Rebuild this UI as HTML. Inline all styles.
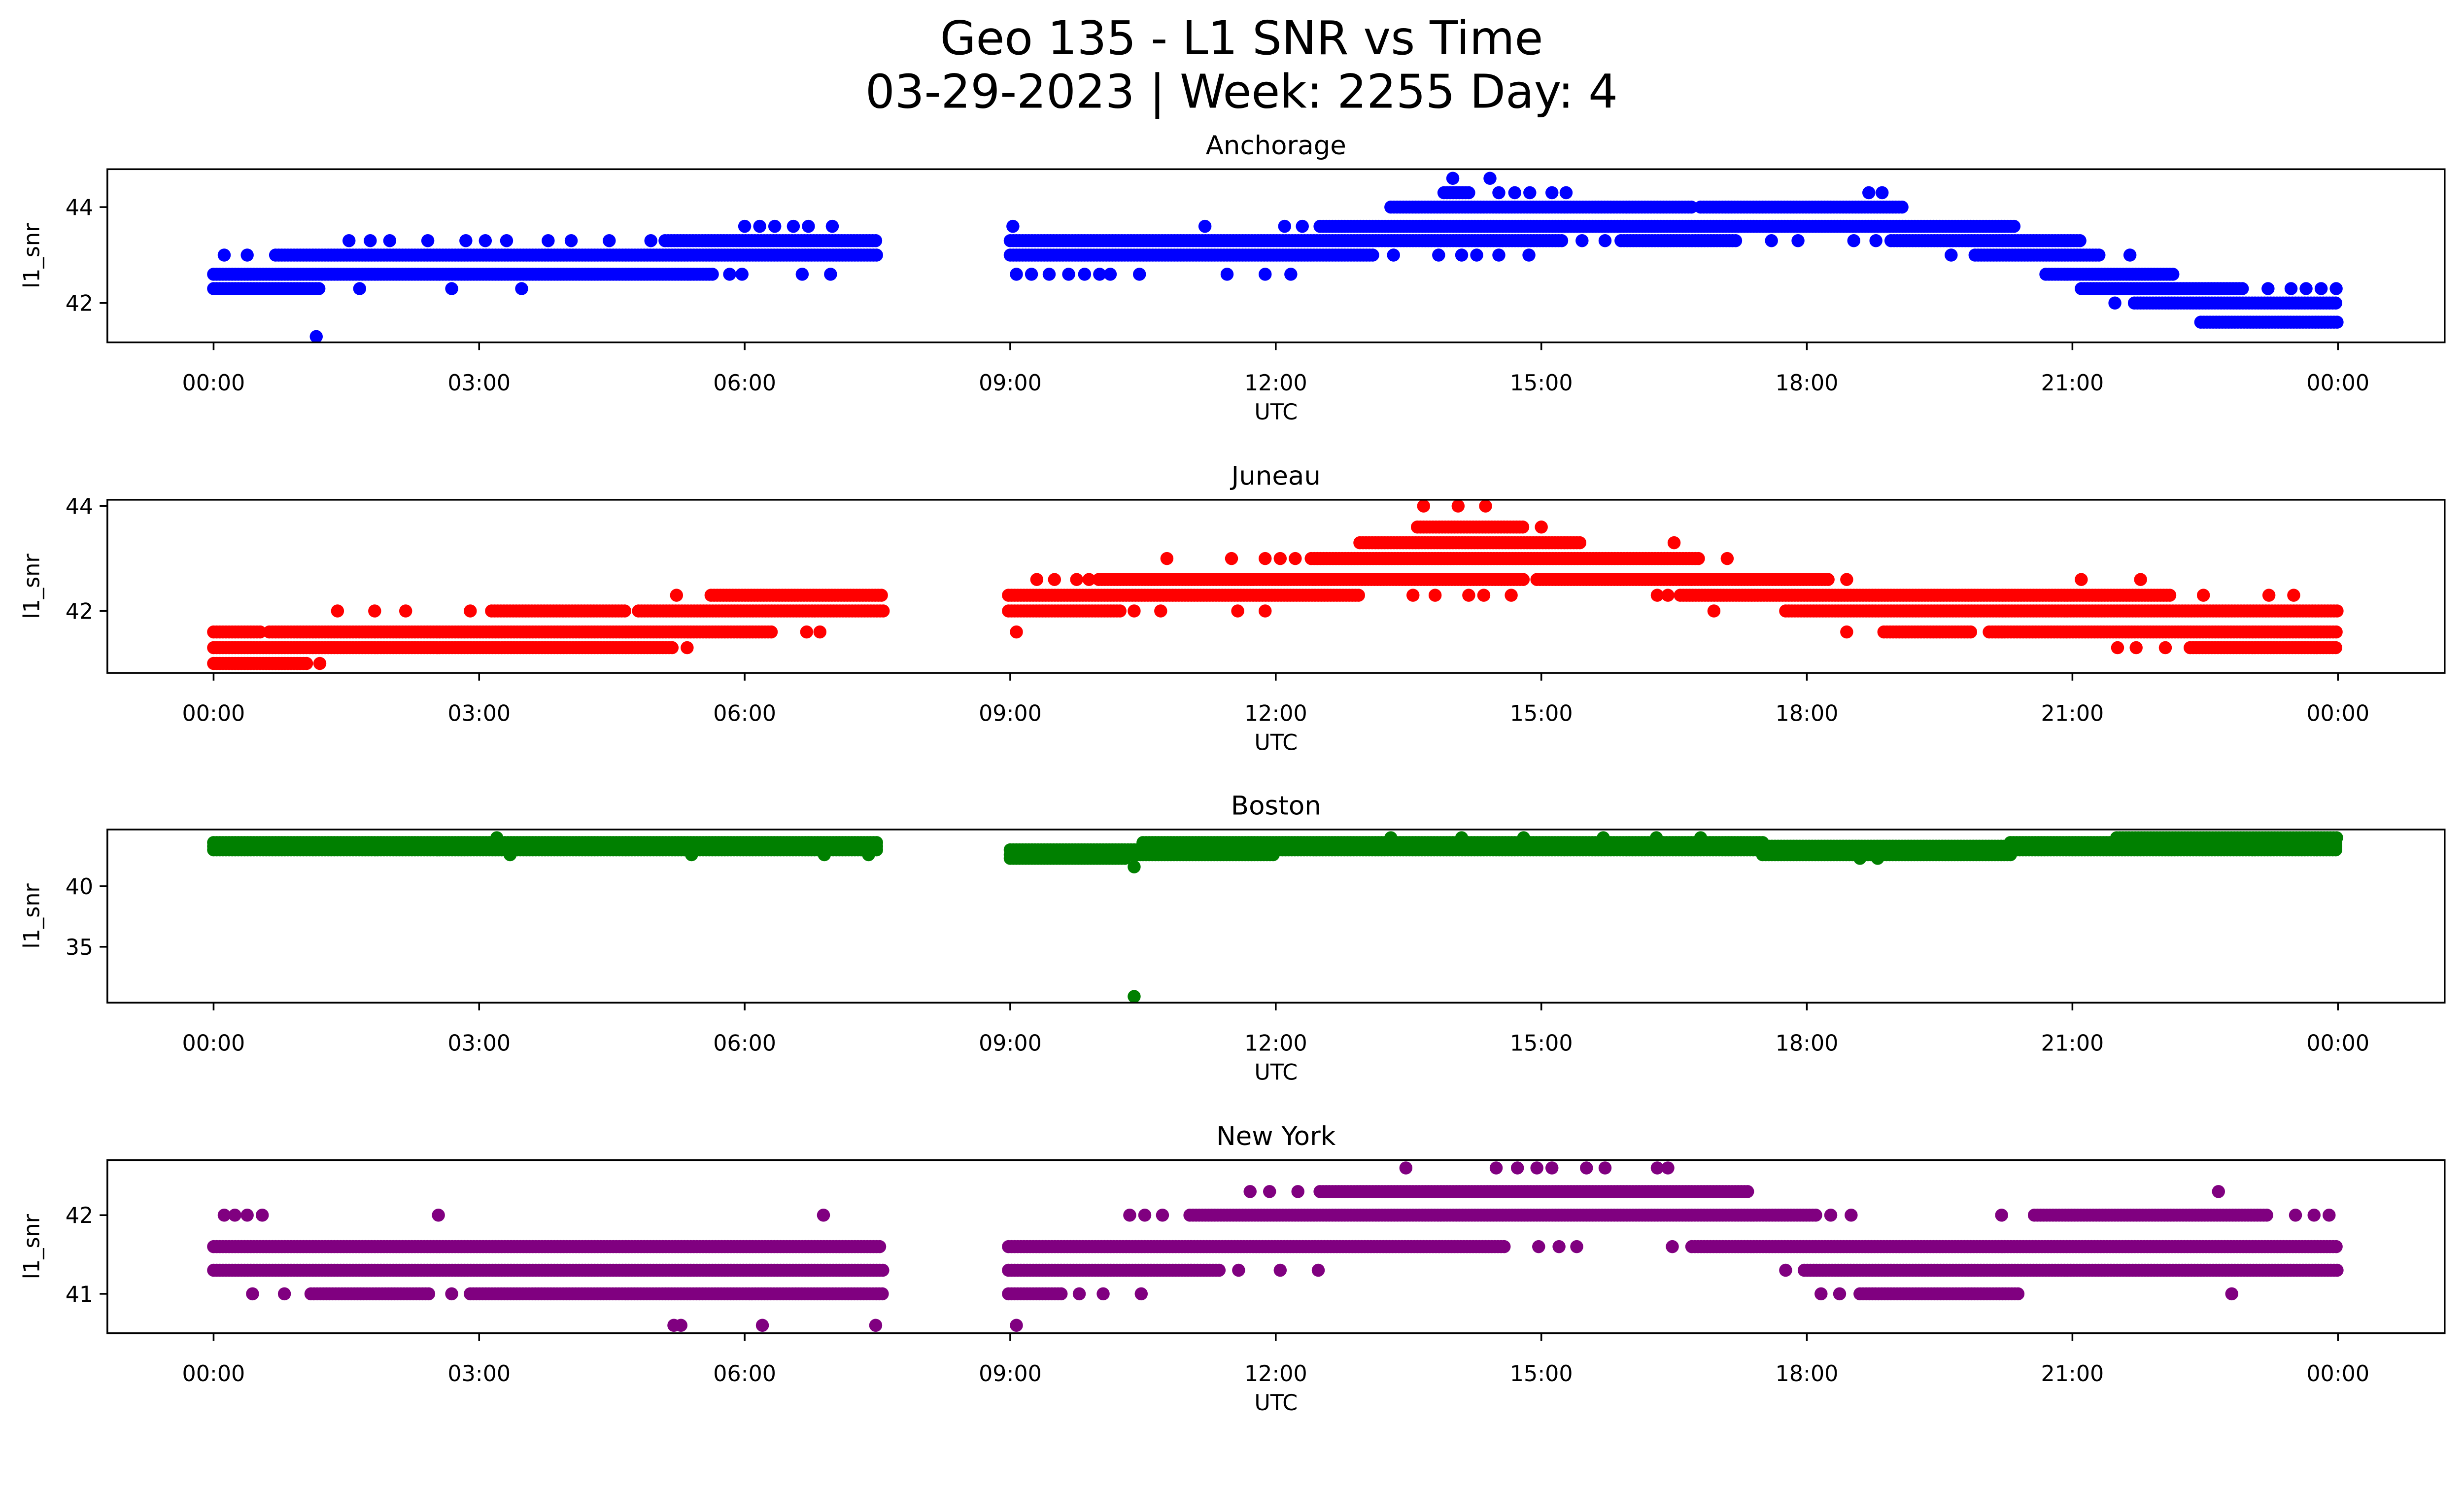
<!DOCTYPE html>
<html><head><meta charset="utf-8"><style>
html,body{margin:0;padding:0;background:#fff;overflow:hidden;width:100vw;height:100vh}
svg{display:block;width:100vw;height:95.8vh}
text{font-family:"DejaVu Sans","Liberation Sans",sans-serif;fill:#000}
</style></head><body>
<svg id="fig" viewBox="0 0 1567.8 909.9" preserveAspectRatio="none" xmlns="http://www.w3.org/2000/svg">
<rect width="1567.8" height="909.9" fill="#fff"/>
<text x="790" y="34.5" font-size="29.5" text-anchor="middle">Geo 135 - L1 SNR vs Time</text>
<text x="790" y="68.5" font-size="29.5" text-anchor="middle">03-29-2023 | Week: 2255 Day: 4</text>
<g id="plots"></g>
</svg>
<script>
// x tick labels (hours)
const xTickHours = [0,3,6,9,12,15,18,21,24];
const xTickLabels = ["00:00","03:00","06:00","09:00","12:00","15:00","18:00","21:00","00:00"];
// panel names, colors, y ticks
const panelNames = ["Anchorage","Juneau","Boston","New York"];
const panelColors = ["#0000ff","#ff0000","#008000","#800080"];
const yTicks = [[42,44],[42,44],[35,40],[41,42]];
const yDomains = [[41.18,44.79],[40.82,44.12],[30.39,44.68],[40.5,42.7]];
// dense runs: [level, startHour, endHour]
const anchorageRuns = [[44.0,13.3,16.7],[44.0,16.8,19.1],[44.3,13.9,14.2],[43.6,12.5,20.35],[43.3,5.1,7.5],[43.3,9.0,15.25],[43.3,15.9,17.2],[43.3,18.95,21.1],[43.0,0.7,7.5],[43.0,9.0,13.1],[43.0,19.9,21.3],[42.6,0.0,5.65],[42.6,20.7,22.15],[42.3,0.0,1.2],[42.3,21.1,22.95],[42.0,21.7,24.0],[41.6,22.45,24.0]];
const anchoragePts = [[14.0,44.6],[14.42,44.6],[14.52,44.3],[14.7,44.3],[14.87,44.3],[15.12,44.3],[15.28,44.3],[18.7,44.3],[18.85,44.3],[6.0,43.6],[6.17,43.6],[6.34,43.6],[6.55,43.6],[6.72,43.6],[6.99,43.6],[9.03,43.6],[11.2,43.6],[12.1,43.6],[12.3,43.6],[1.53,43.3],[1.77,43.3],[1.99,43.3],[2.42,43.3],[2.85,43.3],[3.07,43.3],[3.31,43.3],[3.78,43.3],[4.04,43.3],[4.47,43.3],[4.94,43.3],[15.46,43.3],[15.72,43.3],[17.6,43.3],[17.9,43.3],[18.53,43.3],[18.78,43.3],[0.12,43.0],[0.38,43.0],[13.33,43.0],[13.84,43.0],[14.1,43.0],[14.27,43.0],[14.52,43.0],[14.86,43.0],[19.63,43.0],[21.65,43.0],[5.83,42.6],[5.97,42.6],[6.65,42.6],[6.97,42.6],[9.07,42.6],[9.24,42.6],[9.44,42.6],[9.66,42.6],[9.84,42.6],[10.01,42.6],[10.13,42.6],[10.46,42.6],[11.45,42.6],[11.88,42.6],[12.17,42.6],[1.65,42.3],[2.69,42.3],[3.48,42.3],[23.21,42.3],[23.47,42.3],[23.64,42.3],[23.81,42.3],[23.98,42.3],[21.48,42.0],[1.16,41.3]];
const juneauRuns = [[43.6,13.6,14.8],[43.3,12.95,15.45],[43.0,12.4,16.8],[42.6,10.0,14.8],[42.6,14.95,18.27],[42.3,5.62,7.57],[42.3,8.98,12.95],[42.3,16.57,22.1],[42.0,3.14,4.67],[42.0,4.8,7.57],[42.0,8.98,10.26],[42.0,17.76,24.0],[41.6,0.0,0.55],[41.6,0.63,6.3],[41.6,18.87,19.86],[41.6,20.06,24.0],[41.3,0.0,5.18],[41.3,22.33,23.98],[41.0,0.0,1.05]];
const juneauPts = [[13.67,44.0],[14.06,44.0],[14.37,44.0],[15.0,43.6],[16.5,43.3],[10.77,43.0],[11.5,43.0],[11.88,43.0],[12.05,43.0],[12.22,43.0],[17.1,43.0],[9.3,42.6],[9.5,42.6],[9.75,42.6],[9.89,42.6],[18.45,42.6],[21.1,42.6],[21.77,42.6],[5.23,42.3],[13.55,42.3],[13.8,42.3],[14.18,42.3],[14.35,42.3],[14.66,42.3],[16.31,42.3],[16.43,42.3],[22.48,42.3],[23.22,42.3],[23.5,42.3],[1.4,42.0],[1.82,42.0],[2.17,42.0],[2.9,42.0],[10.4,42.0],[10.7,42.0],[11.57,42.0],[11.88,42.0],[16.95,42.0],[6.7,41.6],[6.85,41.6],[9.07,41.6],[18.45,41.6],[5.35,41.3],[21.51,41.3],[21.72,41.3],[22.05,41.3],[1.2,41.0]];
const bostonRuns = [[43.6,0.0,7.5],[43.3,0.0,7.5],[43.0,0.0,7.5],[43.0,9.0,10.5],[42.6,9.0,10.5],[42.3,9.0,10.3],[43.6,10.5,17.5],[43.3,10.5,17.5],[43.0,10.5,17.5],[42.6,10.5,12.0],[43.3,17.5,20.3],[43.0,17.5,20.3],[42.6,17.5,20.3],[43.6,20.3,24.0],[43.3,20.3,24.0],[43.0,20.3,24.0],[44.0,21.5,24.0]];
const bostonPts = [[3.2,44.0],[7.4,42.6],[6.9,42.6],[3.35,42.6],[5.4,42.6],[13.3,44.0],[14.1,44.0],[14.8,44.0],[15.7,44.0],[16.3,44.0],[16.8,44.0],[18.6,42.3],[18.8,42.3],[10.4,41.6],[10.4,30.9]];
const newyorkRuns = [[42.3,12.5,17.33],[42.0,11.03,18.13],[42.0,20.57,23.2],[41.6,0.0,7.53],[41.6,8.98,14.6],[41.6,16.7,24.0],[41.3,0.0,7.57],[41.3,8.98,11.37],[41.3,17.97,24.0],[41.0,1.1,2.45],[41.0,2.9,7.57],[41.0,8.98,9.58],[41.0,18.6,20.4]];
const newyorkPts = [[13.47,42.6],[14.49,42.6],[14.73,42.6],[14.95,42.6],[15.12,42.6],[15.51,42.6],[15.72,42.6],[16.31,42.6],[16.43,42.6],[11.71,42.3],[11.93,42.3],[12.25,42.3],[22.65,42.3],[0.12,42.0],[0.24,42.0],[0.38,42.0],[0.55,42.0],[2.54,42.0],[6.89,42.0],[10.35,42.0],[10.52,42.0],[10.72,42.0],[18.27,42.0],[18.5,42.0],[20.2,42.0],[23.52,42.0],[23.73,42.0],[23.9,42.0],[14.97,41.6],[15.2,41.6],[15.4,41.6],[16.48,41.6],[11.58,41.3],[12.05,41.3],[12.48,41.3],[17.76,41.3],[0.44,41.0],[0.8,41.0],[2.69,41.0],[9.78,41.0],[10.05,41.0],[10.48,41.0],[18.16,41.0],[18.37,41.0],[22.8,41.0],[5.2,40.6],[5.28,40.6],[6.2,40.6],[7.48,40.6],[9.07,40.6]];

const allRuns = [anchorageRuns, juneauRuns, bostonRuns, newyorkRuns];
const allPts = [anchoragePts, juneauPts, bostonPts, newyorkPts];
const NS = "http://www.w3.org/2000/svg";
const plots = document.getElementById('plots');
const axL = 68.3, axR = 1555.5, X0 = 135.9, X24 = 1487.6;
const tops = [107.5, 317.5, 527, 737];
const H = 110;
function mk(tag, attrs, parent){const e=document.createElementNS(NS,tag);for(const k in attrs)e.setAttribute(k,attrs[k]);parent.appendChild(e);return e;}
const xScale = h => X0 + (X24 - X0) * h / 24;

panelNames.forEach((name, p) => {
  const top = tops[p], bot = top + H;
  const [d0, d1] = yDomains[p];
  const yScale = v => bot - (v - d0) / (d1 - d0) * H;
  const g = mk('g', {}, plots);
  
  
  const clipId = 'clip' + p;
  const cp = mk('clipPath', {id: clipId}, g);
  mk('rect', {x: axL, y: top, width: axR - axL, height: H}, cp);
  const pts = mk('g', {fill: panelColors[p], 'clip-path': 'url(#' + clipId + ')'}, g);
  
  
  allRuns[p].forEach(r => {
    const [lvl, s, e] = r;
    for (let h = s; h <= e + 1e-9; h += 0.035) {
      const c = mk('circle', {cx: xScale(h).toFixed(2), cy: yScale(lvl).toFixed(2), r: 4.15}, pts);
      
      
    }
  });
  allPts[p].forEach(q => {
    const c = mk('circle', {cx: xScale(q[0]).toFixed(2), cy: yScale(q[1]).toFixed(2), r: 4.15}, pts);
    
    
  });
  const frame = mk('rect', {x: axL, y: top, width: axR - axL, height: H, fill: 'none', stroke: '#000', 'stroke-width': 1.1}, g);
  
  
  xTickHours.forEach((h, i) => {
    const x = xScale(h);
    mk('line', {x1: x, x2: x, y1: bot, y2: bot + 4.9, stroke: '#000', 'stroke-width': 1.1}, g);
    const t = mk('text', {x: x, y: bot + 30.5, 'font-size': 13.9, 'text-anchor': 'middle'}, g);
    t.textContent = xTickLabels[i];
    
    
  });
  yTicks[p].forEach(v => {
    const y = yScale(v);
    mk('line', {x1: axL - 4.9, x2: axL, y1: y, y2: y, stroke: '#000', 'stroke-width': 1.1}, g);
    const t = mk('text', {x: axL - 9, y: y + 5, 'font-size': 13.9, 'text-anchor': 'end'}, g);
    t.textContent = String(v);
    
    
  });
  const xl = mk('text', {x: (axL + axR) / 2, y: bot + 49, 'font-size': 13.9, 'text-anchor': 'middle'}, g);
  xl.textContent = 'UTC';
  
  
  const yc = (top + bot) / 2;
  const yl = mk('text', {x: 25, y: yc, 'font-size': 13.9, 'text-anchor': 'middle', transform: 'rotate(-90 25 ' + yc + ')'}, g);
  yl.textContent = 'l1_snr';
  
  
  const tt = mk('text', {x: (axL + axR) / 2, y: top - 9.5, 'font-size': 16.6, 'text-anchor': 'middle'}, g);
  tt.textContent = name;
  
  
});
</script>
</body></html>
